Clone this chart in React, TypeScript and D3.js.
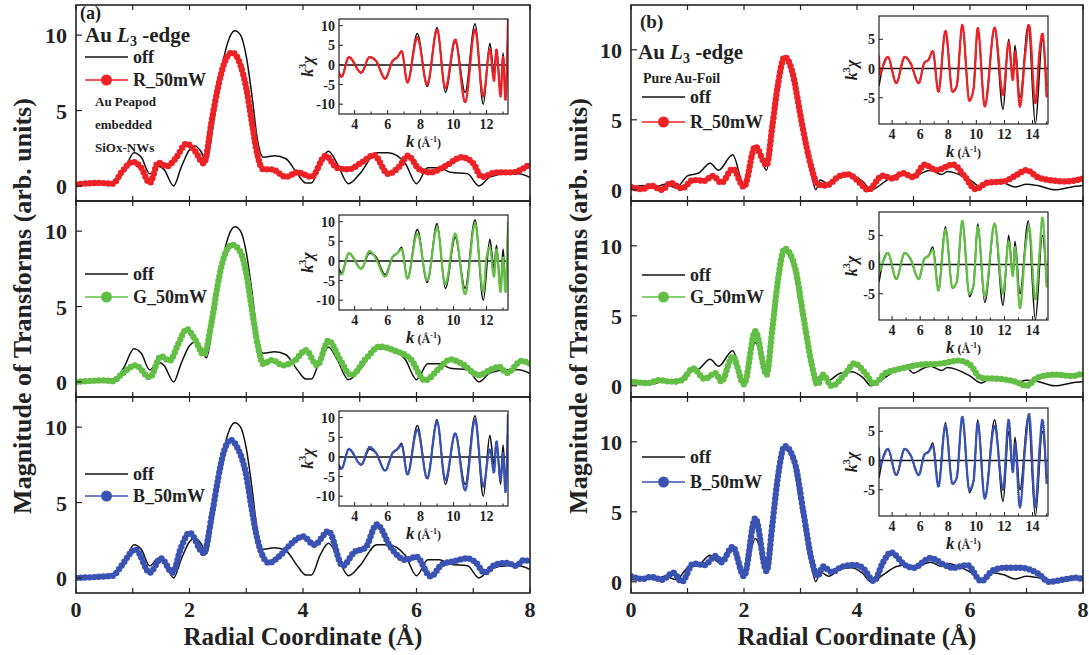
import React from 'react';
import * as d3 from 'd3';

type P = [number, number];

// ---------- data: panel (a) Au peapod, R-space ----------
const rTicks = [0, 1, 2, 3, 4, 5, 6, 7, 8];
const rTickLabels = [0, 2, 4, 6, 8];
const magTicks = [0, 5, 10];

const offA: P[] = [[0,0.05],[0.3,0.1],[0.55,0.15],[0.7,0.25],[0.85,1.0],[1.02,2.2],[1.15,1.9],[1.3,0.8],[1.45,1.3],[1.55,1.1],[1.72,0.0],[1.85,1.2],[2.0,2.4],[2.1,2.65],[2.2,2.3],[2.3,1.6],[2.4,3.6],[2.5,6.2],[2.6,8.4],[2.7,9.8],[2.8,10.3],[2.9,10.0],[3.0,8.6],[3.1,6.0],[3.2,3.0],[3.3,1.9],[3.5,2.0],[3.7,1.8],[3.9,0.8],[4.05,0.2],[4.15,0.2],[4.3,1.5],[4.45,2.3],[4.6,1.5],[4.8,0.15],[5.0,0.8],[5.3,2.2],[5.5,2.2],[5.8,1.5],[6.0,0.15],[6.2,1.2],[6.4,1.2],[6.6,0.9],[6.9,0.8],[7.1,0.0],[7.3,0.6],[7.6,0.8],[7.8,0.8],[8.0,0.55]];
const redA: P[] = [[0,0.1],[0.4,0.2],[0.65,0.15],[0.8,0.9],[1.0,1.6],[1.15,1.2],[1.3,0.2],[1.45,1.55],[1.6,1.3],[1.75,1.8],[1.95,2.8],[2.1,2.3],[2.25,1.5],[2.4,4.5],[2.5,6.5],[2.6,8.0],[2.75,8.85],[2.9,8.0],[3.0,6.5],[3.1,4.2],[3.2,2.0],[3.3,1.1],[3.45,1.1],[3.7,0.6],[3.9,0.9],[4.15,0.6],[4.4,2.0],[4.6,1.2],[4.8,1.1],[5.05,1.6],[5.25,2.05],[5.5,0.8],[5.7,1.3],[5.85,2.0],[6.05,1.1],[6.25,0.9],[6.5,1.3],[6.8,1.9],[7.0,1.5],[7.15,0.6],[7.4,0.9],[7.7,0.9],[7.85,1.1],[8.0,1.45]];
const greenA: P[] = [[0,0.0],[0.5,0.1],[0.65,0.05],[0.8,0.5],[1.05,1.1],[1.3,0.3],[1.5,1.7],[1.65,1.4],[1.8,2.5],[1.95,3.5],[2.1,2.8],[2.25,1.8],[2.4,4.2],[2.5,6.5],[2.6,8.2],[2.75,9.1],[2.9,8.6],[3.0,7.2],[3.1,4.8],[3.2,2.5],[3.3,1.2],[3.45,1.45],[3.65,1.1],[3.85,1.4],[4.05,2.1],[4.25,1.1],[4.45,2.75],[4.65,1.5],[4.85,0.45],[5.1,1.5],[5.35,2.35],[5.6,2.1],[5.9,1.5],[6.15,0.1],[6.4,0.9],[6.6,1.5],[6.8,1.2],[7.1,0.45],[7.3,0.8],[7.45,1.0],[7.6,0.6],[7.85,1.4],[8.0,1.2]];
const blueA: P[] = [[0,0.0],[0.5,0.1],[0.65,0.15],[0.8,0.8],[1.05,1.9],[1.3,0.35],[1.5,1.3],[1.7,0.35],[1.85,2.0],[2.0,3.0],[2.25,1.65],[2.4,4.3],[2.5,6.5],[2.6,8.3],[2.72,9.15],[2.85,8.6],[3.0,6.8],[3.1,4.5],[3.2,2.5],[3.4,1.0],[3.6,1.5],[3.8,2.3],[4.0,2.75],[4.2,2.2],[4.45,3.1],[4.7,0.8],[4.9,1.7],[5.1,2.0],[5.3,3.55],[5.55,2.0],[5.8,1.2],[6.0,1.4],[6.25,0.1],[6.45,0.9],[6.65,1.1],[6.9,1.3],[7.05,1.0],[7.2,0.35],[7.4,0.9],[7.6,1.0],[7.75,0.8],[7.9,1.2],[8.0,1.0]];

// ---------- data: panel (b) Au foil, R-space ----------
const offB: P[] = [[0,0.1],[0.2,0.3],[0.4,0.15],[0.6,0.4],[0.8,0.15],[1.0,1.0],[1.2,1.2],[1.4,1.9],[1.55,1.4],[1.8,2.5],[2.0,0.3],[2.2,3.1],[2.4,1.4],[2.5,4.5],[2.6,7.5],[2.72,9.55],[2.85,8.8],[3.0,5.5],[3.1,3.2],[3.2,1.0],[3.27,0.0],[3.35,0.7],[3.5,0.4],[3.7,0.9],[3.9,1.0],[4.1,0.6],[4.25,0.0],[4.5,0.6],[4.7,1.1],[4.9,1.2],[5.0,0.9],[5.15,1.2],[5.3,1.4],[5.5,1.1],[5.6,1.3],[6.0,0.7],[6.2,0.2],[6.4,0.65],[6.6,0.5],[6.8,0.2],[7.0,0.4],[7.2,0.3],[7.5,0.0],[7.8,0.2],[8.0,0.3]];
const redB: P[] = [[0,0.2],[0.2,0.05],[0.35,0.3],[0.55,0.0],[0.7,0.5],[0.9,0.1],[1.1,0.7],[1.3,0.65],[1.45,1.0],[1.6,0.5],[1.8,1.5],[2.0,0.2],[2.2,3.1],[2.4,1.75],[2.5,4.5],[2.6,7.5],[2.72,9.5],[2.85,8.5],[3.0,5.3],[3.1,3.2],[3.2,1.5],[3.3,0.4],[3.45,0.3],[3.7,1.0],[3.85,1.1],[4.0,0.7],[4.2,0.0],[4.45,1.0],[4.65,0.8],[4.8,1.2],[5.0,0.9],[5.2,1.8],[5.4,1.4],[5.7,1.8],[5.9,1.0],[6.1,0.05],[6.3,0.5],[6.6,0.6],[6.8,1.0],[7.0,1.4],[7.2,0.9],[7.4,0.7],[7.7,0.6],[8.0,0.8]];
const greenB: P[] = [[0,0.3],[0.3,0.2],[0.5,0.4],[0.7,0.3],[0.9,0.4],[1.1,1.25],[1.3,0.5],[1.5,0.9],[1.6,0.3],[1.8,2.1],[2.0,0.1],[2.2,3.9],[2.4,0.8],[2.5,4.0],[2.6,7.5],[2.72,9.8],[2.9,8.5],[3.05,5.0],[3.2,1.5],[3.3,0.1],[3.4,0.8],[3.55,0.0],[3.8,0.9],[3.95,1.6],[4.15,0.9],[4.3,0.15],[4.5,0.9],[4.7,1.15],[4.9,1.35],[5.1,1.5],[5.5,1.6],[5.8,1.8],[6.0,1.5],[6.2,0.55],[6.5,0.5],[6.8,0.3],[7.0,0.0],[7.2,0.6],[7.5,0.8],[7.8,0.7],[8.0,0.9]];
const blueB: P[] = [[0,0.4],[0.2,0.2],[0.35,0.35],[0.55,0.15],[0.75,0.65],[0.9,0.0],[1.1,1.3],[1.3,1.2],[1.5,1.85],[1.6,1.4],[1.8,2.5],[2.0,0.4],[2.2,4.55],[2.4,0.75],[2.5,4.0],[2.6,7.5],[2.72,9.7],[2.9,8.5],[3.05,5.0],[3.2,1.5],[3.3,0.4],[3.4,1.1],[3.55,0.7],[3.75,1.1],[3.95,1.2],[4.1,1.0],[4.3,0.05],[4.45,1.3],[4.6,2.1],[4.85,1.2],[5.0,1.0],[5.3,1.7],[5.55,1.2],[5.7,1.0],[5.95,1.2],[6.2,0.05],[6.4,0.8],[6.6,1.0],[6.9,1.0],[7.2,0.6],[7.4,0.0],[7.7,0.2],[7.9,0.3],[8.0,0.1]];

// ---------- data: insets, k-space k^3 chi ----------
const kTicksA = [4, 6, 8, 10, 12];
const chiTicksA = [-10, -5, 0, 5, 10];
const kTicksB = [4, 6, 8, 10, 12, 14];
const chiTicksB = [-5, 0, 5];

const offInsetA: P[] = [[3.05,-2],[3.2,-3],[3.65,2],[4.4,-2],[4.9,2],[5.3,1],[5.85,-3.5],[6.3,1],[6.6,2],[6.85,3.5],[7.2,-4.5],[7.8,8],[8.4,-5.5],[9.0,9.5],[9.5,-7],[10.1,6],[10.7,-7],[11.3,10.5],[11.8,-10],[12.2,5.5],[12.45,-2],[12.6,4],[12.85,-7],[13.0,3],[13.15,-6],[13.3,8]];
const redInsetA: P[] = [[3.05,-2],[3.2,-3],[3.65,2],[4.4,-2],[4.9,2],[5.3,1],[5.85,-3.5],[6.3,1],[6.6,2],[6.85,3.5],[7.2,-4.5],[7.8,7],[8.4,-5],[9.0,9],[9.5,-6],[10.1,6.5],[10.7,-9.5],[11.3,9],[11.8,-8],[12.2,4],[12.45,-4],[12.6,4],[12.85,-8],[13.0,2],[13.15,-9],[13.3,12]];
const greenInsetA: P[] = [[3.05,-3],[3.2,-3.5],[3.65,2],[4.4,-2],[4.9,2.5],[5.3,0.5],[5.85,-4],[6.3,1],[6.6,2],[6.85,3],[7.2,-4.5],[7.8,7],[8.4,-5],[9.0,8.5],[9.5,-6],[10.1,7],[10.7,-8.5],[11.3,9.5],[11.8,-8],[12.0,1],[12.2,3.5],[12.45,-4],[12.6,3],[12.85,-8],[13.0,1],[13.15,-8],[13.3,10]];
const blueInsetA: P[] = [[3.05,-3],[3.2,-3],[3.65,2],[4.4,-2],[4.9,2.5],[5.3,1],[5.85,-3.5],[6.3,1],[6.6,2],[6.85,3],[7.2,-4.5],[7.8,7],[8.4,-5.5],[9.0,9],[9.5,-6],[10.1,6],[10.7,-8.5],[11.3,9.5],[11.8,-7.5],[12.2,2],[12.45,-4],[12.6,4],[12.85,-6],[13.0,1],[13.15,-9],[13.3,11]];

const offInsetB: P[] = [[3.07,-3],[3.3,0],[3.7,2],[4.3,-2.5],[4.9,2],[5.3,1],[5.9,-2.5],[6.3,1],[6.6,1.5],[6.9,3],[7.3,-4],[7.8,6.5],[8.3,-4],[8.6,-3],[9.0,7.5],[9.5,-5.5],[9.8,-3.5],[10.1,7],[10.6,-6.5],[11.3,7],[11.9,-7],[12.3,5],[12.6,-2],[12.75,4],[13.1,-5],[13.7,7.5],[14.2,-9.5],[14.7,5],[15.0,-3]];
const redInsetB: P[] = [[3.07,2],[3.15,-1],[3.3,0],[3.7,2],[4.3,-2.5],[4.9,2],[5.3,1],[5.9,-2.5],[6.3,1],[6.6,1.5],[6.9,3],[7.3,-4],[7.8,6.5],[8.3,-4],[8.6,-3],[9.0,7.5],[9.5,-5.5],[9.8,-3.5],[10.1,7],[10.6,-6.5],[11.3,7],[11.9,-4.5],[12.3,4.5],[12.6,-2],[12.75,3],[13.1,-6.5],[13.5,3],[13.75,7.5],[14.2,-6],[14.5,3],[14.7,6],[15.0,-5]];
const greenInsetB: P[] = [[3.07,2],[3.15,-1],[3.3,0],[3.7,2],[4.3,-2.5],[4.9,2],[5.3,1],[5.9,-2.5],[6.3,1],[6.6,1.5],[6.9,2.5],[7.3,-4.5],[7.8,6],[8.3,-4],[8.6,-3],[9.0,7.5],[9.5,-5],[9.8,-3.5],[10.1,6.5],[10.6,-5.5],[11.3,7],[11.9,-5],[12.3,4],[12.6,-2],[12.75,3],[13.1,-7.5],[13.5,3],[13.75,6.5],[14.2,-6],[14.5,2],[14.7,8],[15.0,-4]];
const blueInsetB: P[] = [[3.07,2],[3.15,-1],[3.3,0],[3.7,2],[4.3,-2.5],[4.9,2],[5.3,1],[5.9,-2.5],[6.3,1],[6.6,1.5],[6.9,2.5],[7.3,-4.5],[7.8,6],[8.3,-4],[8.6,-3],[9.0,7.5],[9.5,-5],[9.8,-3.5],[10.1,6.5],[10.6,-6.5],[11.3,6],[11.9,-5],[12.3,7],[12.6,-2],[12.75,3],[13.1,-8],[13.5,3],[13.75,8],[14.2,-8],[14.5,2],[14.7,7],[15.0,-4]];

// ---------- styling ----------
const RED = '#ec2227';
const GREEN = '#63be45';
const BLUE = '#3a53b3';
const FONT = '"Liberation Serif", "Times New Roman", serif';

const SUB_TOPS = [5, 201, 397];
const SUB_H = 196;

type Series = { name: string; color: string; data: P[]; inset: P[]; legendY: [number, number] };
type Panel = {
  id: string; x0: number; x1: number; yDomain: [number, number];
  off: P[]; offInset: P[];
  inset: { x0: number; x1: number; dy: number; h: number; kDomain: [number, number]; yDomain: [number, number]; kTicks: number[]; yTicks: number[] };
  series: Series[]; legendX: number; titleX: number;
};

const panels: Panel[] = [
  {
    id: 'a', x0: 76, x1: 530, yDomain: [-1, 12], off: offA, offInset: offInsetA,
    inset: { x0: 339, x1: 508, dy: 14, h: 95, kDomain: [3.05, 13.3], yDomain: [-12.5, 11.7], kTicks: kTicksA, yTicks: chiTicksA },
    series: [
      { name: 'R_50mW', color: RED, data: redA, inset: redInsetA, legendY: [52, 75] },
      { name: 'G_50mW', color: GREEN, data: greenA, inset: greenInsetA, legendY: [73, 96] },
      { name: 'B_50mW', color: BLUE, data: blueA, inset: blueInsetA, legendY: [77, 99] },
    ],
    legendX: 9, titleX: 31,
  },
  {
    id: 'b', x0: 631, x1: 1083, yDomain: [-0.8, 13.2], off: offB, offInset: offInsetB,
    inset: { x0: 879, x1: 1048, dy: 11, h: 108, kDomain: [3.07, 15.1], yDomain: [-9.5, 9], kTicks: kTicksB, yTicks: chiTicksB },
    series: [
      { name: 'R_50mW', color: RED, data: redB, inset: redInsetB, legendY: [92, 117] },
      { name: 'G_50mW', color: GREEN, data: greenB, inset: greenInsetB, legendY: [74, 96] },
      { name: 'B_50mW', color: BLUE, data: blueB, inset: blueInsetB, legendY: [60, 85] },
    ],
    legendX: 11, titleX: 587,
  },
];

function Inset({ p, s, top, idx }: { p: Panel; s: Series; top: number; idx: string }) {
  const ins = p.inset;
  const y0 = top + ins.dy;
  const x = d3.scaleLinear().domain(ins.kDomain).range([ins.x0, ins.x1]);
  const y = d3.scaleLinear().domain(ins.yDomain).range([y0 + ins.h, y0]);
  const line = d3.line<P>().x(d => x(d[0])).y(d => y(d[1])).curve(d3.curveMonotoneX);
  const clip = `clip-inset-${idx}`;
  const kMinor = d3.range(Math.ceil(ins.kDomain[0]), Math.floor(ins.kDomain[1]) + 1);
  return (
    <g>
      <defs>
        <clipPath id={clip}><rect x={ins.x0} y={y0} width={ins.x1 - ins.x0} height={ins.h} /></clipPath>
      </defs>
      <rect x={ins.x0} y={y0} width={ins.x1 - ins.x0} height={ins.h} fill="white" />
      <g clipPath={`url(#${clip})`}>
        <line x1={ins.x0} x2={ins.x1} y1={y(0)} y2={y(0)} stroke="#111" strokeWidth={1.4} />
        <path d={line(p.offInset) || ''} fill="none" stroke="#111" strokeWidth={1.6} />
        <path d={line(s.inset) || ''} fill="none" stroke={s.color} strokeWidth={1.2} />
        <path d={line(s.inset) || ''} fill="none" stroke={s.color} strokeWidth={2.6} strokeLinecap="round" strokeDasharray="0 2.2" />
      </g>
      <rect x={ins.x0} y={y0} width={ins.x1 - ins.x0} height={ins.h} fill="none" stroke="#222" strokeWidth={1.2} />
      {kMinor.map(k => (
        <line key={'km' + k} x1={x(k)} x2={x(k)} y1={y0 + ins.h} y2={y0 + ins.h - (k % 2 === 0 ? 4 : 2.5)} stroke="#222" strokeWidth={1} />
      ))}
      {ins.yTicks.map(t => (
        <line key={'yt' + t} x1={ins.x0} x2={ins.x0 + 4} y1={y(t)} y2={y(t)} stroke="#222" strokeWidth={1} />
      ))}
      {ins.kTicks.map(t => (
        <text key={'kl' + t} x={x(t)} y={y0 + ins.h + 15} textAnchor="middle" fontSize={14} fontWeight="bold" fontFamily={FONT} fill="#222">{t}</text>
      ))}
      {ins.yTicks.map(t => (
        <text key={'yl' + t} x={ins.x0 - 4} y={y(t) + 5} textAnchor="end" fontSize={14} fontWeight="bold" fontFamily={FONT} fill="#222">{t}</text>
      ))}
      <text x={(ins.x0 + ins.x1) / 2} y={y0 + ins.h + 33} textAnchor="middle" fontFamily={FONT} fontWeight="bold" fill="#222">
        <tspan fontSize={17} fontStyle="italic">k</tspan>
        <tspan fontSize={12}> (Å</tspan>
        <tspan fontSize={8} dy={-5}>-1</tspan>
        <tspan fontSize={12} dy={5}>)</tspan>
      </text>
      <text transform={`translate(${ins.x0 - (p.id === 'a' ? 26 : 22)},${y0 + ins.h / 2}) rotate(-90)`} textAnchor="middle" fontFamily={FONT} fontWeight="bold" fill="#222">
        <tspan fontSize={16} fontStyle="italic">k</tspan>
        <tspan fontSize={10} dy={-7}>3</tspan>
        <tspan fontSize={16} fontStyle="italic" dy={7}>χ</tspan>
      </text>
    </g>
  );
}

function Sub({ p, si }: { p: Panel; si: number }) {
  const s = p.series[si];
  const top = SUB_TOPS[si];
  const bottom = top + SUB_H;
  const x = d3.scaleLinear().domain([0, 8]).range([p.x0, p.x1]);
  const y = d3.scaleLinear().domain(p.yDomain).range([bottom, top]);
  const line = d3.line<P>().x(d => x(d[0])).y(d => y(d[1])).curve(d3.curveMonotoneX);
  const clip = `clip-${p.id}-${si}`;
  const lx = p.x0 + p.legendX;
  return (
    <g>
      <defs>
        <clipPath id={clip}><rect x={p.x0} y={top} width={p.x1 - p.x0} height={SUB_H} /></clipPath>
      </defs>
      <g clipPath={`url(#${clip})`}>
        <path d={line(p.off) || ''} fill="none" stroke="#111" strokeWidth={1.5} />
        <path d={line(s.data) || ''} fill="none" stroke={s.color} strokeWidth={1.8} />
        <path d={line(s.data) || ''} fill="none" stroke={s.color} strokeWidth={6.4} strokeLinecap="round" strokeDasharray="0 4.6" />
      </g>
      <rect x={p.x0} y={top} width={p.x1 - p.x0} height={SUB_H} fill="none" stroke="#222" strokeWidth={1.6} />
      {rTicks.map(t => (
        <g key={'rt' + t}>
          <line x1={x(t)} x2={x(t)} y1={bottom} y2={bottom - 5} stroke="#222" strokeWidth={1.2} />
          <line x1={x(t)} x2={x(t)} y1={top} y2={top + 5} stroke="#222" strokeWidth={1.2} />
        </g>
      ))}
      {magTicks.map(t => (
        <g key={'mt' + t}>
          <line x1={p.x0} x2={p.x0 + 6} y1={y(t)} y2={y(t)} stroke="#222" strokeWidth={1.2} />
          <text x={p.x0 - 9} y={y(t) + 8} textAnchor="end" fontSize={22} fontWeight="bold" fontFamily={FONT} fill="#222">{t}</text>
        </g>
      ))}
      {si === 2 && rTickLabels.map(t => (
        <text key={'rl' + t} x={x(t)} y={bottom + 24} textAnchor="middle" fontSize={22} fontWeight="bold" fontFamily={FONT} fill="#222">{t}</text>
      ))}
      {/* legend */}
      <line x1={lx} x2={lx + 43} y1={top + s.legendY[0]} y2={top + s.legendY[0]} stroke="#111" strokeWidth={1.5} />
      <text x={lx + 48} y={top + s.legendY[0] + 6} fontSize={18} fontWeight="bold" fontFamily={FONT} fill="#222">off</text>
      <line x1={lx} x2={lx + 43} y1={top + s.legendY[1]} y2={top + s.legendY[1]} stroke={s.color} strokeWidth={1.5} />
      <circle cx={lx + 21.5} cy={top + s.legendY[1]} r={5.5} fill={s.color} />
      <text x={lx + 48} y={top + s.legendY[1] + 6} fontSize={18} fontWeight="bold" fontFamily={FONT} fill="#222">{s.name}</text>
      <Inset p={p} s={s} top={top} idx={`${p.id}${si}`} />
    </g>
  );
}

function EdgeLabel({ x, y }: { x: number; y: number }) {
  return (
    <text x={x} y={y} fontSize={21} fontWeight="bold" fontFamily={FONT} fill="#222">
      Au <tspan fontStyle="italic">L</tspan>
      <tspan fontSize={14} dy={4}>3</tspan>
      <tspan dy={-4}> -edge</tspan>
    </text>
  );
}

export default function App() {
  return (
    <svg width={1089} height={655} style={{ position: 'absolute', left: 0, top: 0, background: 'white' }}>
      <rect x={0} y={0} width={1089} height={655} fill="white" />
      {panels.map(p => (
        <g key={p.id}>
          {p.series.map((_, si) => <Sub key={si} p={p} si={si} />)}
          <text transform={`translate(${p.titleX},306) rotate(-90)`} textAnchor="middle" fontSize={26} fontWeight="bold" fontFamily={FONT} fill="#222">
            Magnitude of Transforms (arb. units)
          </text>
          <text x={(p.x0 + p.x1) / 2} y={645} textAnchor="middle" fontSize={25} fontWeight="bold" fontFamily={FONT} fill="#222">
            Radial Coordinate (Å)
          </text>
        </g>
      ))}
      {/* panel (a) annotations */}
      <text x={80} y={19} fontSize={18} fontWeight="bold" fontFamily={FONT} fill="#222">(a)</text>
      <EdgeLabel x={85} y={42} />
      <text x={95} y={106} fontSize={13} fontWeight="bold" fontFamily={FONT} fill="#222">Au Peapod</text>
      <text x={95} y={129} fontSize={13} fontWeight="bold" fontFamily={FONT} fill="#222">embedded</text>
      <text x={95} y={152} fontSize={13} fontWeight="bold" fontFamily={FONT} fill="#222">SiOx-NWs</text>
      {/* panel (b) annotations */}
      <text x={640} y={28} fontSize={19} fontWeight="bold" fontFamily={FONT} fill="#222">(b)</text>
      <EdgeLabel x={638} y={59} />
      <text x={643} y={83} fontSize={14} fontWeight="bold" fontFamily={FONT} fill="#222">Pure Au-Foil</text>
    </svg>
  );
}
